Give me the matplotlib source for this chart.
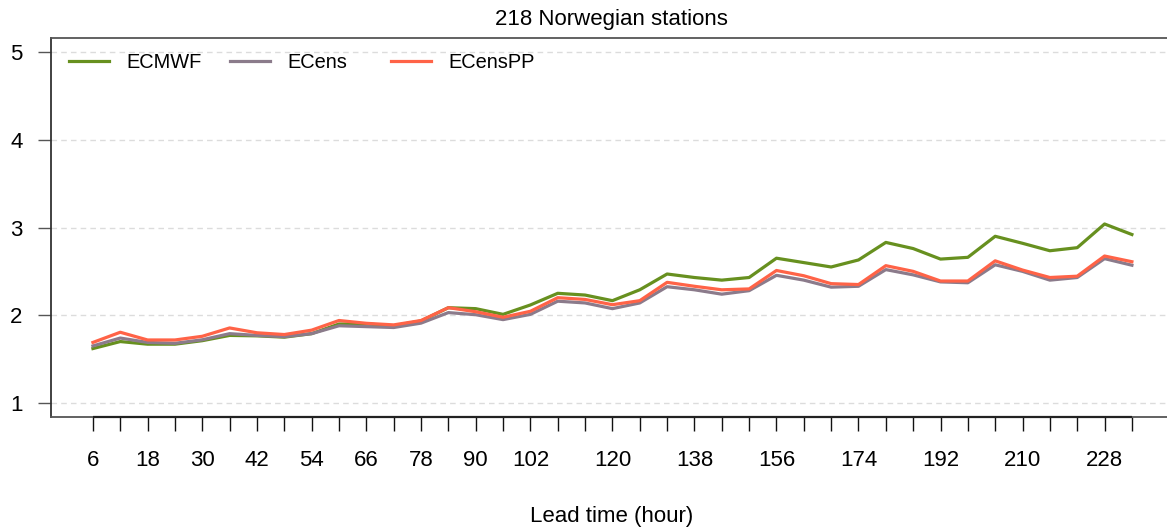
import matplotlib
matplotlib.use("Agg")
import matplotlib.pyplot as plt
from matplotlib.legend import Legend

# Lead times (hours) and scores per forecast system
lead_time = list(range(6, 235, 6))
ecmwf = [1.62, 1.70, 1.67, 1.67, 1.71, 1.77, 1.765, 1.75, 1.79, 1.90,
         1.90, 1.88, 1.935, 2.086, 2.075, 2.01, 2.117, 2.25, 2.23, 2.166,
         2.29, 2.47, 2.43, 2.40, 2.43, 2.65, 2.60, 2.55, 2.63, 2.83,
         2.76, 2.64, 2.66, 2.90, 2.82, 2.735, 2.77, 3.04, 2.92]
ecens = [1.65, 1.74, 1.69, 1.68, 1.72, 1.79, 1.77, 1.755, 1.79, 1.88,
         1.87, 1.86, 1.91, 2.03, 2.006, 1.95, 2.01, 2.16, 2.14, 2.075,
         2.14, 2.325, 2.29, 2.24, 2.28, 2.455, 2.40, 2.32, 2.33, 2.52,
         2.46, 2.38, 2.37, 2.575, 2.50, 2.40, 2.43, 2.645, 2.57]
ecenspp = [1.69, 1.806, 1.718, 1.718, 1.76, 1.855, 1.80, 1.78, 1.83, 1.94,
           1.908, 1.89, 1.94, 2.086, 2.04, 1.977, 2.045, 2.20, 2.18, 2.12,
           2.166, 2.375, 2.33, 2.29, 2.30, 2.51, 2.45, 2.36, 2.35, 2.565,
           2.50, 2.39, 2.39, 2.62, 2.515, 2.43, 2.445, 2.675, 2.61]
series_names = ["ECMWF", "ECens", "ECensPP"]
series_colors = ["#67901f", "#8b7b8b", "#ff6347"]
x_labels = [6, 18, 30, 42, 54, 66, 78, 90, 102, 120, 138, 156, 174, 192, 210, 228]
y_ticks = [1, 2, 3, 4, 5]

plt.rcParams["font.family"] = ["Liberation Sans", "DejaVu Sans"]

W, H = 1167, 529
fig = plt.figure(figsize=(W / 100, H / 100), dpi=100)
left_px, right_px, top_px, bottom_px = 51, 1172, 38, 417
ax = fig.add_axes([left_px / W, 1 - bottom_px / H,
                   (right_px - left_px) / W, (bottom_px - top_px) / H])

ylo, yhi = 1 - 0.16, 5 + 0.16
ax.set_ylim(ylo, yhi)
ax.set_xlim(-3.2, 242.8)

for yv in y_ticks:
    ax.axhline(yv, color="#dcdcdc", lw=1.0, ls=(0, (4, 3)), zorder=0)

lines = []
for vals, name, col in zip([ecmwf, ecens, ecenspp], series_names, series_colors):
    ln, = ax.plot(lead_time, vals, color=col, lw=2.3, label=name,
                  solid_joinstyle="round", zorder=3)
    lines.append(ln)

# frame: gray box, darker axis lines
for side in ["top", "left", "bottom"]:
    ax.spines[side].set_color("#555555")
    ax.spines[side].set_linewidth(1.3)
ax.spines["left"].set_color("#333333")
ax.spines["right"].set_visible(False)
ax.hlines(ylo, lead_time[0], lead_time[-1], color="#222222", lw=1.6,
          clip_on=False, zorder=4)

ax.set_xticks(lead_time)
ax.set_xticklabels([str(h) if h in x_labels else "" for h in lead_time])
ax.set_yticks(y_ticks)
ax.set_yticklabels([str(v) for v in y_ticks])
ax.tick_params(axis="x", length=10, width=1.0, color="#111111", pad=14,
               labelsize=16)
ax.tick_params(axis="y", length=9.5, width=1.0, color="#555555", pad=11,
               labelsize=16)

ax.set_xlabel("Lead time (hour)", fontsize=16, labelpad=25)
ax.set_title("218 Norwegian stations", fontsize=16, pad=9)

# legend entries placed in a row along the top
span = right_px - left_px
leg_x = [(69 - left_px) / span, (230 - left_px) / span, (391 - left_px) / span]
leg_y = (bottom_px - 62) / (bottom_px - top_px)
for ln, lx in zip(lines, leg_x):
    lg = Legend(ax, [ln], [ln.get_label()], loc="center left",
                bbox_to_anchor=(lx, leg_y), frameon=False, borderpad=0,
                borderaxespad=0, handlelength=2.0, handletextpad=0.85,
                fontsize=14.4)
    ax.add_artist(lg)

fig.savefig("out.png", dpi=100)
